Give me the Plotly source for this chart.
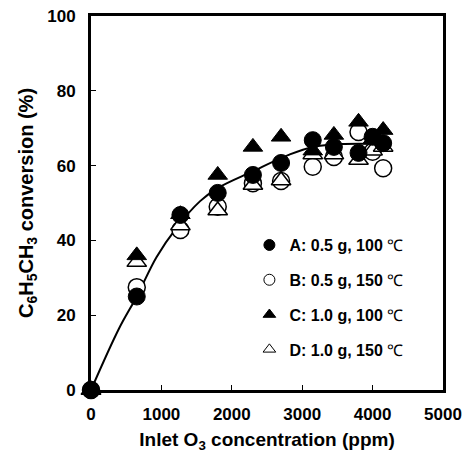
import plotly.graph_objects as go

# Data
x_ppm = [0, 650, 1270, 1800, 2300, 2700, 3150, 3450, 3800, 4000, 4150]
conv_A = [0, 25.0, 46.8, 52.7, 57.5, 60.7, 66.8, 65.0, 63.4, 67.7, 66.0]
conv_B = [0, 27.5, 42.8, 49.0, 55.3, 55.9, 59.7, 62.3, 69.0, 63.7, 59.3]
conv_C = [0, 36.0, 47.0, 57.5, 65.0, 67.7, 64.0, 68.2, 71.7, 67.0, 69.5]
conv_D = [0, 34.2, 44.0, 48.0, 54.8, 56.0, 63.0, 63.0, 61.5, 64.0, 65.0]

fit_x = [0, 400, 650, 930, 1220, 1550, 1800, 2300, 2800, 3150, 3600, 4100]
fit_y = [0, 16.5, 25.0, 35.5, 43.5, 50.5, 54.0, 58.5, 62.8, 65.0, 65.8, 65.8]

labels = ["<b>A: 0.5 g, 100</b> ℃", "<b>B: 0.5 g, 150</b> ℃",
          "<b>C: 1.0 g, 100</b> ℃", "<b>D: 1.0 g, 150</b> ℃"]

FONT = "Liberation Sans, Arial, sans-serif"

fig = go.Figure()

fig.add_trace(go.Scatter(x=fit_x, y=fit_y, mode="lines", line=dict(color="black", width=2, shape="spline"),
                         showlegend=False, hoverinfo="skip"))

styles = {
    "A": dict(symbol="circle", color="black", line=dict(color="black", width=1)),
    "B": dict(symbol="circle", color="white", line=dict(color="black", width=1.5)),
    "C": dict(symbol="triangle-up", color="black", line=dict(color="black", width=1)),
    "D": dict(symbol="triangle-up", color="white", line=dict(color="black", width=1.5)),
}
series = {"A": conv_A, "B": conv_B, "C": conv_C, "D": conv_D}

for key in ["B", "D", "C", "A"]:
    st = styles[key]
    fig.add_trace(go.Scatter(x=x_ppm, y=series[key], mode="markers",
                             marker=dict(size=17, symbol=st["symbol"], color=st["color"], line=st["line"]),
                             showlegend=False, cliponaxis=False))

for key, lab in zip(["A", "B", "C", "D"], labels):
    st = styles[key]
    fig.add_trace(go.Scatter(x=[None], y=[None], mode="markers", name=lab, legendgroup=key,
                             marker=dict(size=11, symbol=st["symbol"], color=st["color"],
                                         line=dict(color="black", width=1))))

axis_common = dict(showline=True, linecolor="black", linewidth=3, mirror=True,
                   ticks="inside", ticklen=5, tickwidth=1, tickcolor="black",
                   showgrid=False, zeroline=False, automargin=False,
                   tickfont=dict(family=FONT, size=17, color="black", weight="bold"))

fig.update_xaxes(range=[0, 5000], tickvals=[0, 1000, 2000, 3000, 4000, 5000],
                 ticklabelstandoff=7,
                 title=dict(text="<b>Inlet O<sub>3</sub> concentration (ppm)</b>",
                            font=dict(family=FONT, size=19, color="black"), standoff=10),
                 **axis_common)
fig.update_yaxes(range=[0, 100], tickvals=[0, 20, 40, 60, 80, 100],
                 ticklabelstandoff=9,
                 title=dict(text="<b>C<sub>6</sub>H<sub>5</sub>CH<sub>3</sub> conversion (%)</b>",
                            font=dict(family=FONT, size=20, color="black"), standoff=9),
                 **axis_common)

fig.update_layout(
    width=464, height=457,
    margin=dict(l=91, r=21, t=16, b=67),
    paper_bgcolor="white", plot_bgcolor="white",
    font=dict(family=FONT, color="black"),
    legend=dict(x=0.45, y=0.433, xanchor="left", yanchor="top",
                bgcolor="rgba(0,0,0,0)", font=dict(family=FONT, size=16, color="black"),
                traceorder="grouped", tracegroupgap=11, itemwidth=30),
)

fig.write_html("out.html", config={"displayModeBar": False},
               post_script="document.body.style.margin='0';document.body.style.overflow='hidden';")
